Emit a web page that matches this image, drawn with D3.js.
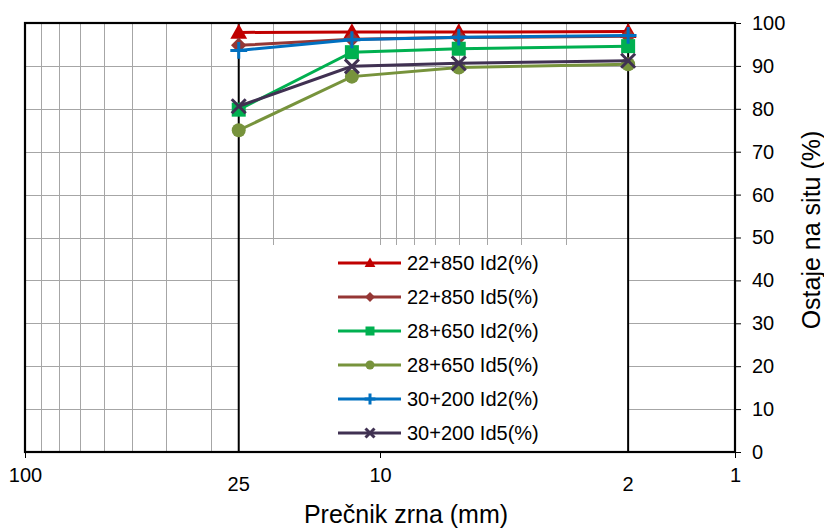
<!DOCTYPE html>
<html>
<head>
<meta charset="utf-8">
<script src="https://cdn.jsdelivr.net/npm/d3@7"></script>
<style>
  body { margin: 0; background: #fff; }
  svg { display: block; font-family: "Liberation Sans", Arial, sans-serif; }
</style>
</head>
<body>
<svg id="chart" width="824" height="530"></svg>
<script>
// ---- data ----
const sizes = [25, 12, 6, 2];               // grain diameter (mm)
const seriesNames = ["22+850 Id2(%)", "22+850 Id5(%)", "28+650 Id2(%)", "28+650 Id5(%)", "30+200 Id2(%)", "30+200 Id5(%)"];
const s22850Id2 = [97.8, 97.9, 97.9, 98.0];
const s22850Id5 = [94.8, 96.2, 96.6, 96.9];
const s28650Id2 = [79.8, 93.2, 94.0, 94.6];
const s28650Id5 = [75.0, 87.5, 89.6, 90.4];
const s30200Id2 = [93.6, 96.1, 96.7, 97.1];
const s30200Id5 = [80.6, 89.9, 90.6, 91.2];
const seriesValues = [s22850Id2, s22850Id5, s28650Id2, s28650Id5, s30200Id2, s30200Id5];
const seriesColors = ["#C00000", "#953735", "#00B050", "#77933C", "#0070C0", "#403152"];
const seriesMarkers = ["triangle", "diamond", "square", "circle", "plus", "cross"];
const xTickMain = [100, 10, 1];
const xTickExtra = [25, 2];
const yTicks = [0, 10, 20, 30, 40, 50, 60, 70, 80, 90, 100];
const xGrid = [90, 80, 70, 60, 50, 40, 30, 20, 10, 9, 8, 7, 6, 5, 4, 3];

// ---- layout ----
const L = 25, R = 735, T = 23, B = 452;
const svg = d3.select("#chart");
const x = d3.scaleLog().domain([100, 1]).range([L, R]);
const y = d3.scaleLinear().domain([0, 100]).range([B, T]);

// grid
const grid = svg.append("g").attr("stroke", "#a6a6a6").attr("stroke-width", 1);
grid.selectAll("line.v").data(xGrid).join("line")
  .attr("x1", d => Math.round(x(d)) + 0.5).attr("x2", d => Math.round(x(d)) + 0.5)
  .attr("y1", T).attr("y2", B);
grid.selectAll("line.h").data(yTicks.filter(d => d > 0 && d < 100)).join("line")
  .attr("x1", L).attr("x2", R)
  .attr("y1", d => Math.round(y(d)) + 0.5).attr("y2", d => Math.round(y(d)) + 0.5);

// legend background box
const legTop = 245;
svg.append("rect").attr("x", x(25)).attr("y", legTop)
  .attr("width", x(2) - x(25)).attr("height", B - legTop).attr("fill", "#fff");

// black reference lines at 25 and 2
svg.selectAll("line.ref").data(xTickExtra).join("line")
  .attr("x1", d => x(d)).attr("x2", d => x(d)).attr("y1", T).attr("y2", B)
  .attr("stroke", "#000").attr("stroke-width", 2);

// border
svg.append("rect").attr("x", L).attr("y", T).attr("width", R - L).attr("height", B - T)
  .attr("fill", "none").attr("stroke", "#000").attr("stroke-width", 2.2);

// y axis (right)
const yAxis = d3.axisRight(y).tickValues(yTicks).tickSize(6).tickPadding(11);
const yg = svg.append("g").attr("transform", `translate(${R},0)`).call(yAxis);
yg.select(".domain").remove();
yg.selectAll("line").attr("stroke", "#000").attr("stroke-width", 1);
yg.selectAll("text").attr("font-size", 20).attr("font-family", "Liberation Sans, Arial, sans-serif").attr("fill", "#000");

// x axis (bottom)
const xAxis = d3.axisBottom(x).tickValues(xTickMain).tickFormat(d3.format("d")).tickSize(6).tickPadding(10);
const xg = svg.append("g").attr("transform", `translate(0,${B})`).call(xAxis);
xg.select(".domain").remove();
xg.selectAll("line").attr("stroke", "#000").attr("stroke-width", 1);
xg.selectAll("text").attr("font-size", 20).attr("font-family", "Liberation Sans, Arial, sans-serif").attr("fill", "#000");
svg.selectAll("text.xextra").data(xTickExtra).join("text")
  .attr("x", d => x(d)).attr("y", 491).attr("text-anchor", "middle")
  .attr("font-size", 20).attr("fill", "#000").text(d => d);

// axis titles
svg.append("text").attr("x", 406).attr("y", 523).attr("text-anchor", "middle")
  .attr("font-size", 25).attr("fill", "#000").text("Prečnik zrna (mm)");
svg.append("text").attr("transform", "translate(820,230) rotate(-90)").attr("text-anchor", "middle")
  .attr("font-size", 25).attr("fill", "#000").text("Ostaje na situ (%)");

// marker drawing
function drawMarker(g, type, color, s) {
  if (type === "triangle") {
    g.append("path").attr("d", `M0,${-s*0.62}L${s*0.6},${s*0.45}L${-s*0.6},${s*0.45}Z`).attr("fill", color);
  } else if (type === "diamond") {
    g.append("path").attr("d", `M0,${-s*0.55}L${s*0.55},0L0,${s*0.55}L${-s*0.55},0Z`).attr("fill", color);
  } else if (type === "square") {
    g.append("rect").attr("x", -s/2).attr("y", -s/2).attr("width", s).attr("height", s).attr("fill", color);
  } else if (type === "circle") {
    g.append("circle").attr("r", s/2).attr("fill", color);
  } else if (type === "plus") {
    g.append("path").attr("d", `M${-s*0.6},0H${s*0.6}M0,${-s*0.6}V${s*0.6}`).attr("stroke", color).attr("stroke-width", 3);
  } else if (type === "cross") {
    g.append("path").attr("d", `M${-s*0.5},${-s*0.5}L${s*0.5},${s*0.5}M${s*0.5},${-s*0.5}L${-s*0.5},${s*0.5}`).attr("stroke", color).attr("stroke-width", 3);
  }
}

// series
const line = d3.line().x(d => x(d[0])).y(d => y(d[1]));
seriesValues.forEach((vals, i) => {
  const pts = sizes.map((s, j) => [s, vals[j]]);
  const g = svg.append("g");
  g.append("path").attr("d", line(pts)).attr("fill", "none")
    .attr("stroke", seriesColors[i]).attr("stroke-width", 3);
  pts.forEach(p => {
    const mg = g.append("g").attr("transform", `translate(${x(p[0])},${y(p[1])})`);
    drawMarker(mg, seriesMarkers[i], seriesColors[i], 14);
  });
});

// legend
const legY0 = 263, legStep = 34;
seriesNames.forEach((name, i) => {
  const gy = legY0 + i * legStep;
  const g = svg.append("g").attr("transform", `translate(0,${gy})`);
  g.append("line").attr("x1", 338).attr("x2", 401).attr("stroke", seriesColors[i]).attr("stroke-width", 3);
  const mg = g.append("g").attr("transform", "translate(370,0)");
  drawMarker(mg, seriesMarkers[i], seriesColors[i], 9);
  g.append("text").attr("x", 407).attr("y", 0).attr("dy", "0.35em")
    .attr("font-size", 20).attr("fill", "#000").text(name);
});
</script>
</body>
</html>
